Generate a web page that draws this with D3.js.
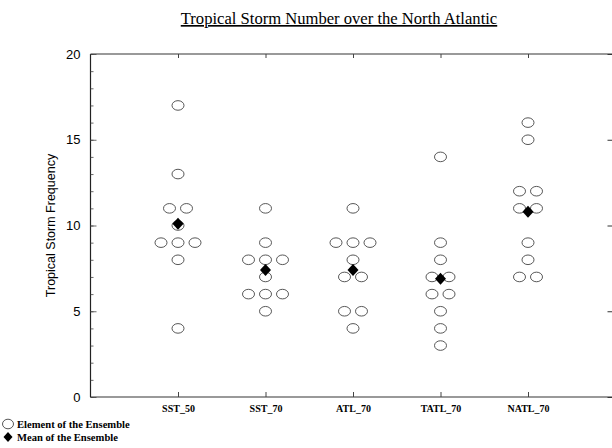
<!DOCTYPE html>
<html><head><meta charset="utf-8">
<script src="https://cdn.jsdelivr.net/npm/d3@7"></script>
<style>body{margin:0;background:#fff}svg{display:block}</style>
</head><body>
<svg id="c" width="612" height="448"></svg>
<script>
const categories = ["SST_50","SST_70","ATL_70","TATL_70","NATL_70"];
const SST_50  = [17,13,11,11,10,9,9,9,8,4];
const SST_70  = [11,9,8,8,8,7,6,6,6,5];
const ATL_70  = [11,9,9,9,8,7,7,5,5,4];
const TATL_70 = [14,9,8,7,7,6,6,5,4,3];
const NATL_70 = [16,15,12,12,11,11,9,8,7,7];
const members = [SST_50, SST_70, ATL_70, TATL_70, NATL_70];
const yTicks = [0,5,10,15,20];

(function(){
const svg = d3.select("#c");
const x = d3.scaleLinear().domain([0,6]).range([90.5,615.5]);
const y = d3.scaleLinear().domain([0,20]).range([397,54]);
const spacing = 17;

// frame
const frame = svg.append("g");
frame.append("line").attr("x1",x(0)).attr("x2",x(6)).attr("y1",y(20)).attr("y2",y(20)).attr("stroke","#777").attr("stroke-width",1.6);
frame.append("line").attr("x1",x(0)).attr("x2",x(6)).attr("y1",y(0)).attr("y2",y(0)).attr("stroke","#777").attr("stroke-width",1.6);
frame.append("line").attr("x1",x(0)).attr("x2",x(0)).attr("y1",y(0)).attr("y2",y(20)).attr("stroke","#222").attr("stroke-width",1.2);
frame.append("line").attr("x1",x(6)).attr("x2",x(6)).attr("y1",y(0)).attr("y2",y(20)).attr("stroke","#222").attr("stroke-width",1.2);

// left axis: inward ticks
const leftMin = svg.append("g").attr("transform",`translate(${x(0)},0)`)
  .call(d3.axisLeft(y).tickValues(d3.range(0,21)).tickSize(-3).tickFormat(""));
leftMin.select(".domain").remove();
leftMin.selectAll("line").attr("stroke","#444").attr("stroke-width",0.8);
const leftMaj = svg.append("g").attr("transform",`translate(${x(0)},0)`)
  .call(d3.axisLeft(y).tickValues(yTicks).tickSize(-6).tickPadding(10).tickFormat(d3.format("d")));
leftMaj.select(".domain").remove();
leftMaj.selectAll("line").attr("stroke","#444").attr("stroke-width",0.8);
leftMaj.selectAll("text").attr("font-family","Liberation Sans, Arial, sans-serif").attr("font-size",13).attr("fill","#000");

// right axis: inward major ticks
const rightAx = svg.append("g").attr("transform",`translate(${x(6)},0)`)
  .call(d3.axisRight(y).tickValues(yTicks).tickSize(-8).tickFormat(""));
rightAx.select(".domain").remove();
rightAx.selectAll("line").attr("stroke","#333").attr("stroke-width",1);

// bottom axis
const catPos = categories.map((c,i)=>i+1);
const bottomAx = svg.append("g").attr("transform",`translate(0,${y(0)})`)
  .call(d3.axisBottom(x).tickValues(catPos).tickSize(-5).tickPadding(8).tickFormat((d)=>categories[d-1]));
bottomAx.select(".domain").remove();
bottomAx.selectAll("line").attr("stroke","#444").attr("stroke-width",1);
bottomAx.selectAll("text").attr("font-family","Liberation Serif, Times New Roman, serif").attr("font-weight","bold").attr("font-size",10).attr("fill","#000");

// top axis
const topAx = svg.append("g").attr("transform",`translate(0,${y(20)})`)
  .call(d3.axisTop(x).tickValues(catPos).tickSize(-4).tickFormat(""));
topAx.select(".domain").remove();
topAx.selectAll("line").attr("stroke","#444").attr("stroke-width",1);

// points
const pts = [];
members.forEach((vals,i)=>{
  const counts = d3.rollup(vals, v=>v.length, d=>d);
  counts.forEach((n,val)=>{
    for(let k=0;k<n;k++){
      pts.push({cat:i+1, val:val, off:(k-(n-1)/2)*spacing});
    }
  });
});
svg.append("g").selectAll("ellipse").data(pts).join("ellipse")
  .attr("cx",d=>x(d.cat)+d.off).attr("cy",d=>y(d.val))
  .attr("rx",6).attr("ry",4.8)
  .attr("fill","#fff").attr("stroke","#444").attr("stroke-width",0.9);

// means
const means = members.map((v,i)=>({cat:i+1, val:d3.mean(v)}));
svg.append("g").selectAll("path").data(means).join("path")
  .attr("transform",d=>`translate(${x(d.cat)},${y(d.val)})`)
  .attr("d","M0,-6L5.5,0L0,6L-5.5,0Z").attr("fill","#000");

// title
svg.append("text").attr("x",339).attr("y",24).attr("text-anchor","middle")
  .attr("font-family","Liberation Serif, Times New Roman, serif").attr("font-size",16.6)
  .attr("text-decoration","underline").text("Tropical Storm Number over the North Atlantic");

// y label
svg.append("text").attr("transform",`translate(55,${(y(0)+y(20))/2}) rotate(-90)`)
  .attr("text-anchor","middle").attr("font-family","Liberation Sans, Arial, sans-serif")
  .attr("font-size",12.5).text("Tropical Storm Frequency");

// legend
const leg = svg.append("g");
leg.append("ellipse").attr("cx",8).attr("cy",424).attr("rx",5.5).attr("ry",4.8).attr("fill","#fff").attr("stroke","#444").attr("stroke-width",0.9);
leg.append("text").attr("x",17).attr("y",427.5).attr("font-family","Liberation Serif, Times New Roman, serif").attr("font-weight","bold").attr("font-size",10.6).text("Element of the Ensemble");
leg.append("path").attr("transform","translate(8,437)").attr("d","M0,-5L4.5,0L0,5L-4.5,0Z").attr("fill","#000");
leg.append("text").attr("x",17).attr("y",440.5).attr("font-family","Liberation Serif, Times New Roman, serif").attr("font-weight","bold").attr("font-size",10.6).text("Mean of the Ensemble");
})();
</script>
</body></html>
